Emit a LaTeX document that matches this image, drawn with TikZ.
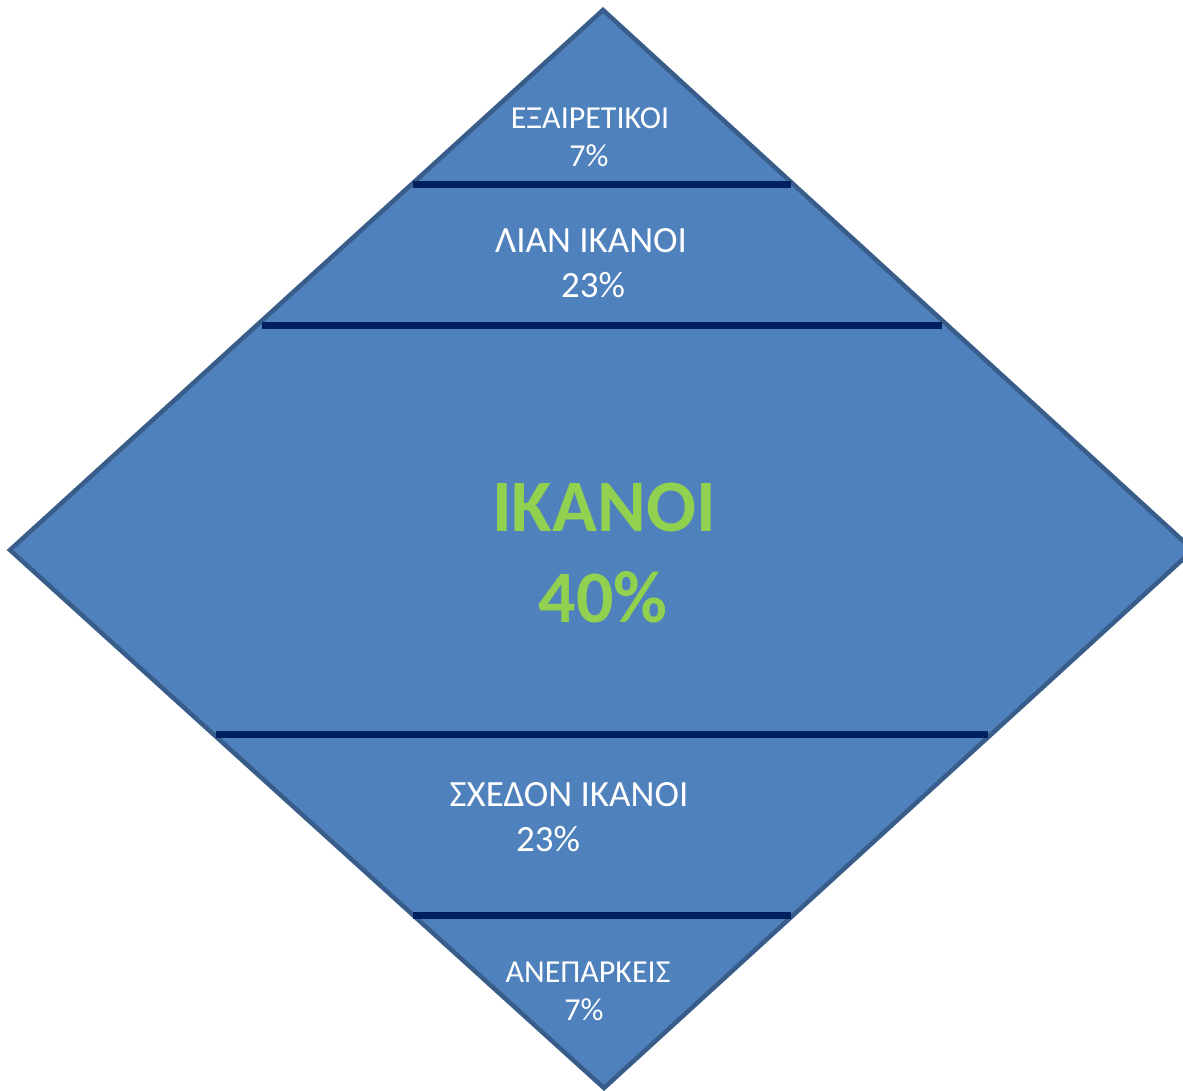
\documentclass[tikz,border=0pt]{standalone}
\usepackage{fontspec}
\setmainfont{Carlito}
\definecolor{tierfill}{HTML}{4F81BD}
\definecolor{tieredge}{HTML}{385D8A}
\definecolor{tierline}{HTML}{002060}
\definecolor{tiergreen}{HTML}{92D050}
\begin{document}
\begin{tikzpicture}[x=1pt,y=-1pt,
  lbl/.style={text=white,anchor=base,inner sep=0pt,font=\fontsize{#1}{#1}\selectfont},
  big/.style={text=tiergreen,anchor=base,inner sep=0pt,font=\fontsize{74}{74}\selectfont\bfseries},
  divider/.style={draw=tierline,line width=7pt}]
\useasboundingbox (0,0) rectangle (1183,1090);
% diamond body
\coordinate (top) at (603,10);
\coordinate (left) at (10,550);
\coordinate (right) at (1193,550);
\coordinate (bottom) at (604,1088);
\filldraw[fill=tierfill,draw=tieredge,line width=4.5pt,line join=miter]
  (top) -- (right) -- (bottom) -- (left) -- cycle;
% tier dividers
\coordinate (d1l) at (413,184); \coordinate (d1r) at (791,184);
\coordinate (d2l) at (262,325); \coordinate (d2r) at (942,325);
\coordinate (d3l) at (216,734); \coordinate (d3r) at (988,734);
\coordinate (d4l) at (413,915); \coordinate (d4r) at (791,915);
\draw[divider] (d1l) -- (d1r);
\draw[divider] (d2l) -- (d2r);
\draw[divider] (d3l) -- (d3r);
\draw[divider] (d4l) -- (d4r);
% tier labels
\node[lbl=32] (t1a) at (590,128) {ΕΞΑΙΡΕΤΙΚΟΙ};
\node[lbl=32] (t1b) at (589,166) {7\%};
\node[lbl=37] (t2a) at (591,252) {ΛΙΑΝ ΙΚΑΝΟΙ};
\node[lbl=37] (t2b) at (593,297) {23\%};
\node[big] (t3a) at (604,531) {ΙΚΑΝΟΙ};
\node[big] (t3b) at (603,622) {40\%};
\node[lbl=37] (t4a) at (569,806) {ΣΧΕΔΟΝ ΙΚΑΝΟΙ};
\node[lbl=37] (t4b) at (548,851) {23\%};
\node[lbl=32] (t5a) at (588,982) {ΑΝΕΠΑΡΚΕΙΣ};
\node[lbl=32] (t5b) at (584,1020) {7\%};
\end{tikzpicture}
\end{document}
